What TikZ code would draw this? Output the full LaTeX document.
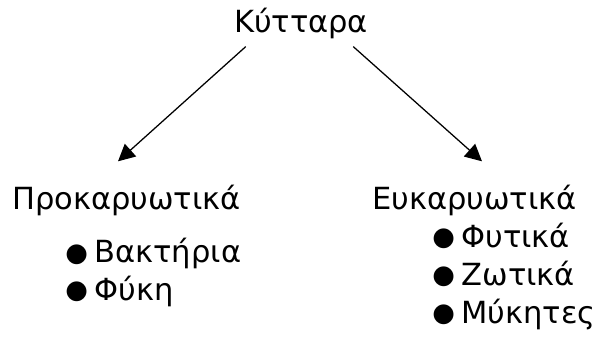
\documentclass[tikz,border=0pt]{standalone}
\usepackage{fontspec}
\setmainfont{DejaVu Sans}
\usepackage{tikz}
\usetikzlibrary{arrows.meta,positioning}
\newcommand{\blob}{\raisebox{0.06em}{\scalebox{0.85}{●}}\hspace{0.22em}}
\tikzset{
    >={Triangle[length=0.42cm,width=0.42cm]},
    label/.style={
        inner sep=0pt,
        font={\fontsize{21.7pt}{26pt}\selectfont}
    },
    entry/.style={
        label,
        anchor=base west
    },
    arrow/.style={draw, line width=0.9pt, ->},
}
\begin{document}
\begin{tikzpicture}
\useasboundingbox (0,0) rectangle (15.1,-8.525);
% top
\node[label, anchor=base](cell) at (7.525,-0.825){Κύτταρα};
% two groups
\node[entry](prok) at (0.3,-5.25){Προκαρυωτικά};
\node[entry](euk) at (9.3,-5.25){Ευκαρυωτικά};
% lists
\node[entry](bact) at (1.625,-6.575){\blob Βακτήρια};
\node[entry](algae) at (1.625,-7.5){\blob Φύκη};
\node[entry](plant) at (10.8,-6.175){\blob Φυτικά};
\node[entry](animal) at (10.8,-7.125){\blob Ζωτικά};
\node[entry](fungi) at (10.8,-8.075){\blob Μύκητες};
% arrows
\draw[arrow] ([xshift=0.3cm,yshift=-0.175cm]cell.south west) -- ([xshift=2.65cm,yshift=0.6cm]prok.north west);
\draw[arrow] ([xshift=-0.375cm,yshift=-0.175cm]cell.south east) -- ([xshift=2.75cm,yshift=0.6cm]euk.north west);
\end{tikzpicture}
\end{document}
